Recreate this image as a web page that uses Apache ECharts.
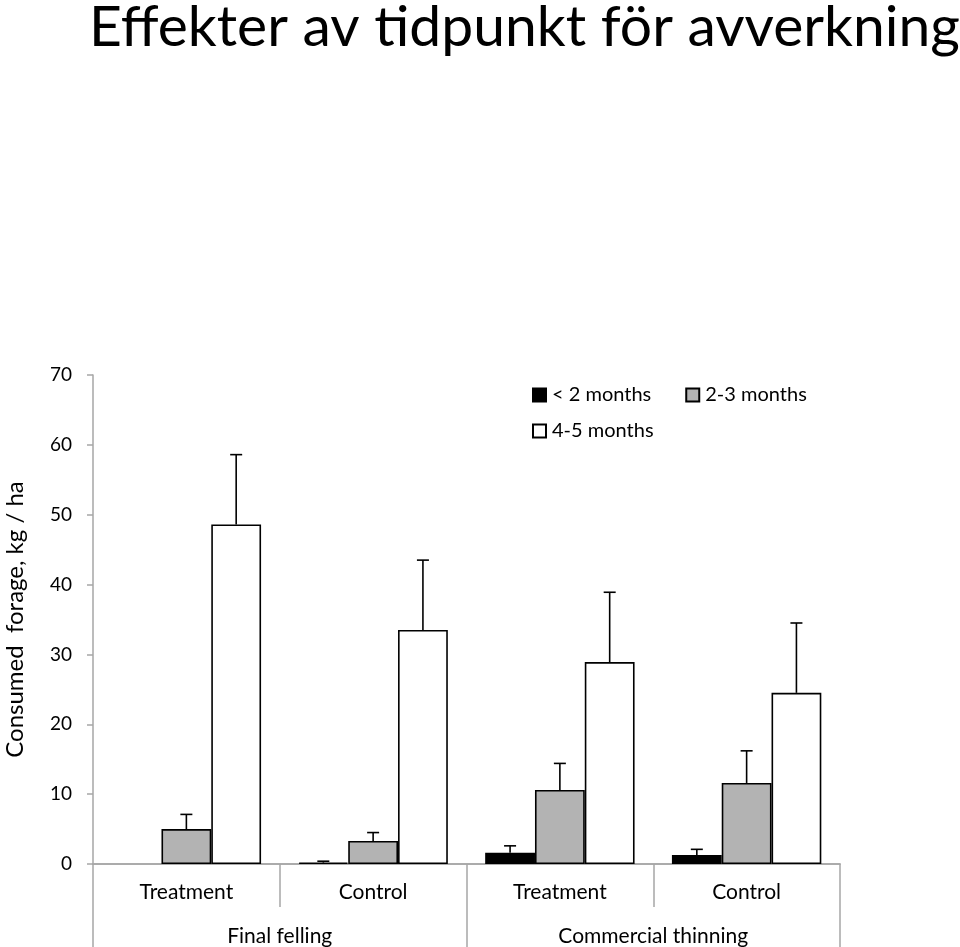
<!DOCTYPE html>
<html>
<head>
<meta charset="utf-8">
<script src="https://cdn.jsdelivr.net/npm/echarts@6/dist/echarts.min.js"></script>
<style>
  html, body { margin: 0; padding: 0; background: #fff; }
  #chart { width: 960px; height: 947px; }
</style>
</head>
<body>
<div id="chart"></div>
<script>
// categories
const categories = ['Treatment', 'Control', 'Treatment', 'Control'];
const groups = ['Final felling', 'Commercial thinning'];
const seriesNames = ['< 2 months', '2-3 months', '4-5 months'];

// bar values (kg / ha)
const under2 = [0, 0.2, 1.6, 1.3];
const m2to3 = [5.0, 3.3, 10.6, 11.6];
const m4to5 = [48.6, 33.5, 28.9, 24.5];

// upper error (added on top of the bar)
const under2Err = [0, 0.2, 1.0, 0.8];
const m2to3Err = [2.1, 1.2, 3.8, 4.6];
const m4to5Err = [10.0, 10.0, 10.0, 10.0];

const yTicks = { min: 0, max: 70, interval: 10 };

const values = [under2, m2to3, m4to5];
const errors = [under2Err, m2to3Err, m4to5Err];
const colors = ['#000000', '#b3b3b3', '#ffffff'];
const font = 'Lato, "Open Sans", sans-serif';
const axisGray = '#a6a6a6';

const chart = echarts.init(document.getElementById('chart'));

// error bar data: [category index, value, error, series index]
let errData = [];
for (let s = 0; s < 3; s++) {
  for (let i = 0; i < categories.length; i++) {
    errData.push([i, values[s][i], errors[s][i], s]);
  }
}

function renderErr(params, api) {
  const cat = api.value(0);
  const val = api.value(1);
  const err = api.value(2);
  const s = api.value(3);
  if (!err) return;
  const catW = api.size([1, 0])[0];
  const barW = catW * 0.8 / 3;
  const base = api.coord([cat, val]);
  const top = api.coord([cat, val + err]);
  const x = base[0] + (s - 1) * barW;
  const cap = 6;
  const style = { stroke: '#000', lineWidth: 1.6 };
  return {
    type: 'group',
    children: [
      { type: 'line', shape: { x1: x, y1: base[1], x2: x, y2: top[1] }, style: style },
      { type: 'line', shape: { x1: x - cap, y1: top[1], x2: x + cap, y2: top[1] }, style: style }
    ]
  };
}

const legendText = { fontFamily: font, fontSize: 20, color: '#000', padding: [0, 0, 0, 1] };

const option = {
  animation: false,
  title: {
    text: 'Effekter av tidpunkt för avverkning',
    left: 84,
    top: -6,
    textStyle: { fontFamily: font, fontSize: 57, fontWeight: 'normal', color: '#000' }
  },
  legend: [
    {
      data: seriesNames.slice(0, 2),
      left: 527,
      top: 380,
      itemWidth: 13,
      itemHeight: 13,
      itemGap: 34,
      icon: 'rect',
      textStyle: legendText
    },
    {
      data: seriesNames.slice(2),
      left: 527,
      top: 416,
      itemWidth: 13,
      itemHeight: 13,
      icon: 'rect',
      textStyle: legendText
    }
  ],
  grid: { left: 93, right: 120, top: 375, bottom: 83, outerBoundsMode: 'none', containLabel: false },
  xAxis: [
    {
      type: 'category',
      data: categories,
      axisLine: { show: true, lineStyle: { color: axisGray, width: 1.5 } },
      axisTick: { show: true, interval: 0, length: 43, lineStyle: { color: axisGray, width: 1.5 } },
      axisLabel: { margin: 18, fontFamily: font, fontSize: 21, color: '#000' }
    },
    {
      type: 'category',
      data: groups,
      position: 'bottom',
      axisLine: { show: true, lineStyle: { color: axisGray, width: 1.5 } },
      axisTick: { show: true, interval: 0, length: 84, lineStyle: { color: axisGray, width: 1.5 } },
      axisLabel: { margin: 62, fontFamily: font, fontSize: 21, color: '#000' }
    }
  ],
  yAxis: {
    type: 'value',
    min: yTicks.min,
    max: yTicks.max,
    interval: yTicks.interval,
    name: 'Consumed  forage, kg / ha',
    nameLocation: 'middle',
    nameGap: 66,
    nameTextStyle: { fontFamily: font, fontSize: 24, color: '#000' },
    axisLine: { show: true, lineStyle: { color: axisGray, width: 1.5 } },
    axisTick: { show: true, length: 6, lineStyle: { color: axisGray, width: 1.5 } },
    axisLabel: { margin: 21, fontFamily: font, fontSize: 19, color: '#000' },
    splitLine: { show: false }
  },
  series: [
    ...seriesNames.map((name, s) => ({
      name: name,
      type: 'bar',
      // a zero bar shows no outline
      data: values[s].map(v => (v === 0 ? { value: v, itemStyle: { borderWidth: 0 } } : v)),
      barGap: 0,
      barCategoryGap: '20%',
      itemStyle: { color: colors[s], borderColor: '#000', borderWidth: 1.6 }
    })),
    {
      type: 'custom',
      renderItem: renderErr,
      data: errData,
      z: 10,
      silent: true
    }
  ]
};
chart.setOption(option);
</script>
</body>
</html>
